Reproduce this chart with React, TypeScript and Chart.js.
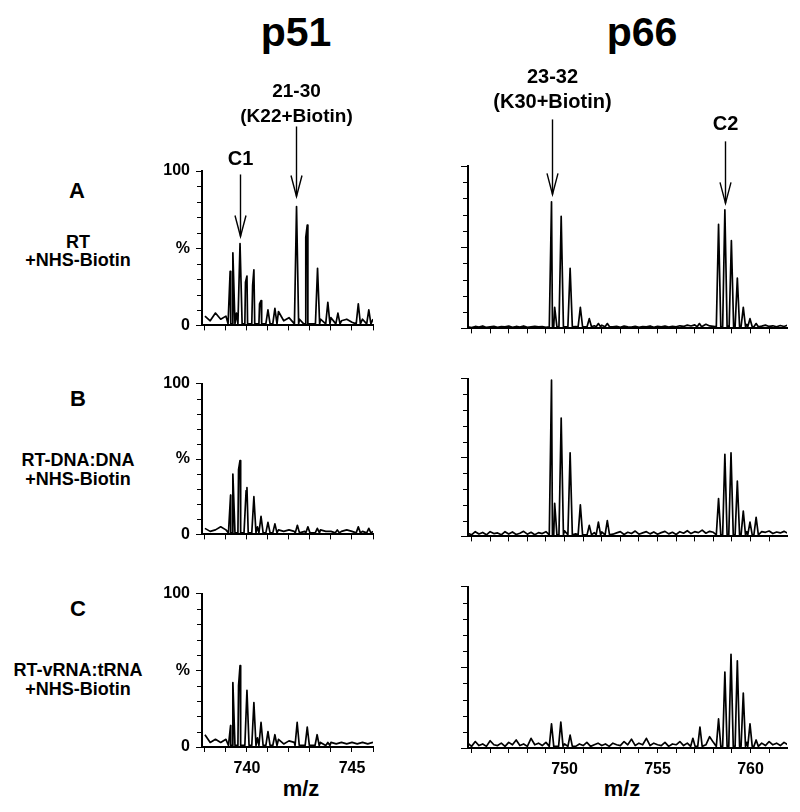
import React, { useEffect, useRef } from "react";
import { Chart, registerables } from "chart.js";

Chart.register(...registerables);

const FONT = "'Liberation Sans', Arial, Helvetica, sans-serif";

type Peak = [number, number];

// ---------- axes ----------
const P51_RANGE: [number, number] = [737.86, 746.0];
const P66_RANGE: [number, number] = [744.81, 761.96];
const P51_TICKS = [738, 739, 740, 741, 742, 743, 744, 745, 746];
const P66_TICKS = [745, 746, 747, 748, 749, 750, 751, 752, 753, 754, 755, 756, 757, 758, 759, 760, 761];
const P51_TICK_LABELS = [740, 745];
const P66_TICK_LABELS = [750, 755, 760];
const Y_TICKS = [0, 10, 20, 30, 40, 50, 60, 70, 80, 90, 100];
const Y_MAJOR = [0, 50, 100];
const Y_LABEL_VALUES = [0, 50, 100];
const Y_LABEL_TEXT = ["0", "%", "100"];

// ---------- p51 spectra (m/z, % intensity) ----------
const P51_NOISE_START = 738.0;
const P51_NOISE_STEP = 0.25;
const L_A_NOISE = [6, 3, 8, 4, 6, 5, 8, 10, 7, 9, 8, 6, 5, 4, 9, 3, 5, 3, 4, 6, 5, 3, 4, 2, 5, 3, 3, 4, 2, 3, 4, 2, 4];
const L_B_NOISE = [4, 2, 3, 5, 3, 4, 8, 6, 5, 6, 5, 4, 3, 4, 3, 2, 3, 2, 4, 2, 3, 2, 3, 2, 2, 3, 2, 3, 2, 3, 2, 3, 2];
const L_C_NOISE = [8, 3, 5, 3, 5, 4, 10, 8, 6, 8, 6, 5, 4, 3, 5, 2, 4, 3, 4, 3, 3, 2, 3, 2, 3, 2, 3, 2, 3, 2, 3, 2, 3];
const L_A_PEAKS: Peak[] = [
  [739.2, 35], [739.33, 47], [739.67, 53], [739.93, 28], [740.0, 32], [740.27, 26], [740.33, 36],
  [740.6, 14], [740.67, 16], [741.0, 10], [741.33, 11], [742.36, 77], [742.8, 57], [742.87, 65],
  [743.36, 37], [743.85, 15], [744.33, 8], [745.3, 14], [745.8, 10],
];
const L_B_PEAKS: Peak[] = [
  [739.22, 26], [739.33, 40], [739.6, 43], [739.67, 49], [739.96, 29], [740.0, 31], [740.33, 25],
  [740.67, 12], [741.0, 8], [741.33, 7], [742.4, 6], [742.9, 5], [743.35, 4], [744.3, 3], [745.3, 5], [745.8, 4],
];
const L_C_PEAKS: Peak[] = [
  [739.22, 14], [739.33, 42], [739.6, 40], [739.67, 53], [740.0, 37], [740.33, 29], [740.67, 16],
  [741.0, 10], [741.33, 8], [742.39, 16], [742.87, 13], [743.34, 8], [743.85, 3],
];

// ---------- p66 spectra ----------
const P66_NOISE_START = 744.8;
const P66_NOISE_STEP = 0.2;
const R_A_NOISE = [
  1, 0.5, 1.2, 0.8, 1.5, 0.6, 1, 1.3, 0.7, 1.1,
  0.9, 1.4, 0.6, 1.2, 0.8, 1.5, 0.7, 1, 1.3, 0.9,
  1.1, 0.6, 1.4, 1, 0.8, 1.6, 0.9, 1.2, 2, 1.1,
  1.8, 0.9, 2.2, 1, 1.6, 1.2, 2, 0.8, 1.5, 1,
  1.2, 0.7, 1.4, 1, 0.8, 1.3, 0.6, 1.1, 0.9, 1.5,
  0.7, 1.2, 1, 1.4, 0.8, 1.2, 1, 1.6, 1.2, 2,
  1.5, 2.2, 1.3, 1.8, 2.5, 1.5, 1.2, 2.8, 1.6, 1.2,
  1.4, 2, 1, 1.8, 1.6, 2.4, 1.2, 1.8, 1, 1.4,
  2, 1.2, 1.6, 1, 1.8, 1.2, 2,
];
const R_B_NOISE = [
  2, 1, 3, 1.5, 2.5, 1, 3, 1.8, 2.2, 1,
  3, 1.5, 2.8, 1.2, 2, 3.2, 1.4, 2.6, 1, 2.4,
  1.8, 3, 1.2, 2, 2.6, 1.4, 3.5, 2, 4, 1.6,
  4.5, 2, 3, 1.5, 2.4, 1.2, 2.8, 1.6, 3.2, 1.4,
  2.2, 3, 1.2, 2.6, 1.8, 3.4, 1.4, 2.2, 3, 1.6,
  2.8, 1.4, 2.4, 3.2, 1.6, 2.6, 1.2, 3, 2, 3.6,
  1.8, 3, 2.4, 4, 2, 3.2, 2.6, 4.2, 2.2, 3.6,
  2, 3.4, 2.6, 4.4, 2.8, 3, 2.4, 3.8, 2, 3,
  2.6, 3.4, 1.8, 2.8, 2.2, 3.2, 2,
];
const R_C_NOISE = [
  3, 1, 4, 1.5, 2.5, 1, 4.5, 2, 1.5, 3,
  1, 3.5, 2, 5, 1.5, 2.5, 1, 6, 2, 3,
  1.5, 3.5, 2, 2.5, 1, 4, 2.5, 1.5, 3, 1,
  2.5, 1.5, 3.5, 1, 2, 3, 1.5, 2.5, 1, 3,
  2, 1.5, 4, 2, 5.5, 1.5, 3, 2, 6, 1.5,
  3, 2, 1.5, 3.5, 1, 2.5, 2, 4, 1.5, 3,
  2, 6, 3, 4.5, 2, 7, 3.5, 5, 2.5, 8,
  3, 5.5, 2, 4, 2.5, 3.5, 1.5, 4.5, 2, 3,
  1.5, 4, 2, 3, 1.5, 3.5, 2,
];
const R_A_PEAKS: Peak[] = [
  [749.3, 78], [749.47, 13], [749.82, 69], [750.3, 37], [750.85, 13], [751.33, 6], [751.82, 3], [752.3, 3],
  [757.25, 3], [758.28, 64], [758.62, 73], [758.97, 54], [759.29, 31], [759.61, 13], [759.97, 6], [760.3, 3],
];
const R_B_PEAKS: Peak[] = [
  [749.3, 99], [749.47, 21], [749.82, 75], [750.3, 53], [750.85, 20], [751.33, 7], [751.82, 9], [752.3, 10],
  [758.28, 24], [758.62, 52], [758.95, 53], [759.29, 35], [759.61, 16], [759.97, 9], [760.3, 12],
];
const R_C_PEAKS: Peak[] = [
  [749.3, 15], [749.8, 16], [750.3, 8], [756.9, 6], [757.28, 13],
  [758.28, 18], [758.62, 47], [758.95, 58], [759.29, 54], [759.61, 34], [759.97, 15], [760.3, 5],
];

// ---------- annotations (m/z of arrow, arrow-tip intensity) ----------
const ANN_P51_MZ = [739.65, 742.34];
const ANN_P51_TIP = [57.6, 83.5];
const ANN_P51_TEXT = [["C1"], ["21-30", "(K22+Biotin)"]];
const ANN_P66_MZ = [749.33, 758.6];
const ANN_P66_TIP = [82.5, 77];
const ANN_P66_TEXT = [["23-32", "(K30+Biotin)"], ["C2"]];
// arrow styling (pixels)
const ANN_P51_STYLE = [{ len: 62, gap: 9, size: 20 }, { len: 70, gap: 4, size: 19 }];
const ANN_P66_STYLE = [{ len: 75, gap: 11, size: 20 }, { len: 62, gap: 11, size: 20 }];

// ---------- layout ----------
const COLS = [
  { plotL: 202, plotR: 373, yW: 52, range: P51_RANGE, ticks: P51_TICKS, labels: P51_TICK_LABELS, yLabels: true, minor: 4, major: 6, hw: 0.1, start: P51_NOISE_START, step: P51_NOISE_STEP },
  { plotL: 468, plotR: 787, yW: 20, range: P66_RANGE, ticks: P66_TICKS, labels: P66_TICK_LABELS, yLabels: false, minor: 4, major: 7, hw: 0.12, start: P66_NOISE_START, step: P66_NOISE_STEP },
];
const ROWS = [
  { tops: [171, 166], bottoms: [329, 332], padTop: [116, 111], padBottom: 12, xLabels: false },
  { tops: [380, 375], bottoms: [538, 540], padTop: [12, 12], padBottom: 12, xLabels: false },
  { tops: [590, 583], bottoms: [747, 748], padTop: [12, 12], padBottom: 34, xLabels: true },
];
const SERIES = [
  [{ peaks: L_A_PEAKS, noise: L_A_NOISE }, { peaks: R_A_PEAKS, noise: R_A_NOISE }],
  [{ peaks: L_B_PEAKS, noise: L_B_NOISE }, { peaks: R_B_PEAKS, noise: R_B_NOISE }],
  [{ peaks: L_C_PEAKS, noise: L_C_NOISE }, { peaks: R_C_PEAKS, noise: R_C_NOISE }],
];
const TEXTS = [
  { t: "p51", x: 296, base: 47, size: 41 },
  { t: "p66", x: 642, base: 47, size: 41 },
  { t: "A", x: 77, base: 199, size: 22 },
  { t: "RT", x: 78, base: 248, size: 18 },
  { t: "+NHS-Biotin", x: 78, base: 266, size: 18 },
  { t: "B", x: 78, base: 407, size: 22 },
  { t: "RT-DNA:DNA", x: 78, base: 466, size: 18 },
  { t: "+NHS-Biotin", x: 78, base: 485, size: 18 },
  { t: "C", x: 78, base: 617, size: 22 },
  { t: "RT-vRNA:tRNA", x: 78, base: 676, size: 18 },
  { t: "+NHS-Biotin", x: 78, base: 695, size: 18 },
  { t: "m/z", x: 301, base: 797, size: 22 },
  { t: "m/z", x: 622, base: 797, size: 22 },
];

const BASE = 1;

function buildProfile(peaks: Peak[], noise: number[], start: number, step: number, hw: number) {
  const pts: { x: number; y: number }[] = [];
  noise.forEach((v, i) => {
    const x = start + i * step;
    if (!peaks.some(([m]) => Math.abs(m - x) < hw * 1.3)) pts.push({ x, y: v });
  });
  peaks.forEach(([m, h]) => {
    pts.push({ x: m - hw, y: BASE }, { x: m, y: h }, { x: m + hw, y: BASE });
  });
  pts.sort((a, b) => a.x - b.x);
  return pts;
}

const decorPlugin = {
  id: "decor",
  afterDraw(chart: any) {
    const o = chart.options.plugins.decor;
    if (!o) return;
    const ctx = chart.ctx;
    const xs = chart.scales.x;
    const ys = chart.scales.y;
    const left = chart.chartArea.left;
    ctx.save();
    ctx.strokeStyle = "#000";
    ctx.fillStyle = "#000";
    ctx.lineWidth = 1;
    Y_TICKS.filter((v) => !Y_MAJOR.includes(v)).forEach((v) => {
      const py = Math.round(ys.getPixelForValue(v)) + 0.5;
      ctx.beginPath();
      ctx.moveTo(left - o.minor - 1, py);
      ctx.lineTo(left, py);
      ctx.stroke();
    });
    (o.mz || []).forEach((mz: number, i: number) => {
      const st = o.style[i];
      const px = Math.round(xs.getPixelForValue(mz)) + 0.5;
      const tip = ys.getPixelForValue(o.tip[i]);
      const top = tip - st.len;
      ctx.lineWidth = 1.4;
      ctx.beginPath();
      ctx.moveTo(px, top);
      ctx.lineTo(px, tip);
      ctx.stroke();
      ctx.beginPath();
      ctx.moveTo(px - 5.5, tip - 21);
      ctx.lineTo(px, tip);
      ctx.lineTo(px + 5.5, tip - 21);
      ctx.stroke();
      ctx.font = `bold ${st.size}px ${FONT}`;
      ctx.textAlign = "center";
      ctx.textBaseline = "alphabetic";
      const lines: string[] = o.text[i];
      lines.forEach((t, k) => {
        ctx.fillText(t, px, top - st.gap - (lines.length - 1 - k) * 25);
      });
    });
    ctx.restore();
  },
};

function Panel({ row, col }: { row: number; col: number }) {
  const ref = useRef<HTMLCanvasElement>(null);
  const C = COLS[col];
  const R = ROWS[row];
  const plotT = R.tops[col];
  const plotB = R.bottoms[col];
  const padTop = R.padTop[col];
  const padRight = 10;
  const width = C.plotR - C.plotL + C.yW + padRight;
  const height = padTop + (plotB - plotT) + R.padBottom;
  const left = C.plotL - C.yW;
  const top = plotT - padTop;

  useEffect(() => {
    const s = SERIES[row][col];
    const data = buildProfile(s.peaks, s.noise, C.start, C.step, C.hw);
    const ann =
      row === 0
        ? col === 0
          ? { mz: ANN_P51_MZ, tip: ANN_P51_TIP, text: ANN_P51_TEXT, style: ANN_P51_STYLE }
          : { mz: ANN_P66_MZ, tip: ANN_P66_TIP, text: ANN_P66_TEXT, style: ANN_P66_STYLE }
        : { mz: [], tip: [], text: [], style: [] };
    const chart = new Chart(ref.current as HTMLCanvasElement, {
      type: "line",
      data: {
        datasets: [
          {
            data,
            borderColor: "#000",
            borderWidth: 1.7,
            borderJoinStyle: "round",
            pointRadius: 0,
            tension: 0,
            fill: false,
          } as any,
        ],
      },
      plugins: [decorPlugin],
      options: {
        responsive: false,
        animation: false,
        devicePixelRatio: 1,
        events: [],
        layout: { padding: { top: padTop, right: padRight, left: 0, bottom: 0 } },
        plugins: {
          legend: { display: false },
          tooltip: { enabled: false },
          decor: { minor: C.minor, ...ann },
        } as any,
        scales: {
          x: {
            type: "linear",
            min: C.range[0],
            max: C.range[1],
            afterBuildTicks: (sc: any) => {
              sc.ticks = C.ticks.map((v) => ({ value: v }));
            },
            afterFit: (sc: any) => {
              sc.height = R.padBottom;
            },
            ticks: {
              autoSkip: false,
              maxRotation: 0,
              padding: 7,
              color: "#000",
              font: { family: FONT, size: 16, weight: "bold" },
              callback: (v: any) => (R.xLabels && C.labels.includes(Number(v)) ? String(v) : ""),
            },
            grid: { drawOnChartArea: false, drawTicks: true, tickLength: 5, tickColor: "#000", tickWidth: 1 },
            border: { display: true, color: "#000", width: 2 },
          },
          y: {
            type: "linear",
            min: 0,
            max: 100,
            afterBuildTicks: (sc: any) => {
              sc.ticks = Y_TICKS.map((v) => ({ value: v }));
            },
            afterFit: (sc: any) => {
              sc.width = C.yW;
            },
            ticks: {
              autoSkip: false,
              padding: 6,
              color: "#000",
              font: { family: FONT, size: 16, weight: "bold" },
              callback: (v: any) => {
                const i = Y_LABEL_VALUES.indexOf(Number(v));
                return C.yLabels && i >= 0 ? Y_LABEL_TEXT[i] : "";
              },
            },
            grid: {
              drawOnChartArea: false,
              drawTicks: true,
              tickLength: C.major,
              tickWidth: 1,
              tickColor: (ctx: any) => (ctx.tick && Y_MAJOR.includes(ctx.tick.value) ? "#000" : "rgba(0,0,0,0)"),
            },
            border: { display: true, color: "#000", width: 2 },
          },
        },
      } as any,
    });
    return () => chart.destroy();
  }, []);

  return (
    <canvas
      ref={ref}
      width={width}
      height={height}
      style={{ position: "absolute", left, top, width, height, display: "block" }}
    />
  );
}

export default function App() {
  return (
    <div style={{ position: "absolute", left: 0, top: 0, width: 800, height: 812, background: "#fff", overflow: "hidden" }}>
      {TEXTS.map((d, i) => (
        <div
          key={i}
          style={{
            position: "absolute",
            left: d.x - 150,
            width: 300,
            top: d.base - 0.8465 * d.size,
            textAlign: "center",
            fontFamily: FONT,
            fontWeight: "bold",
            fontSize: d.size,
            lineHeight: 1,
            color: "#000",
            whiteSpace: "nowrap",
          }}
        >
          {d.t}
        </div>
      ))}
      {[0, 1, 2].map((r) => [0, 1].map((c) => <Panel key={`${r}-${c}`} row={r} col={c} />))}
    </div>
  );
}
